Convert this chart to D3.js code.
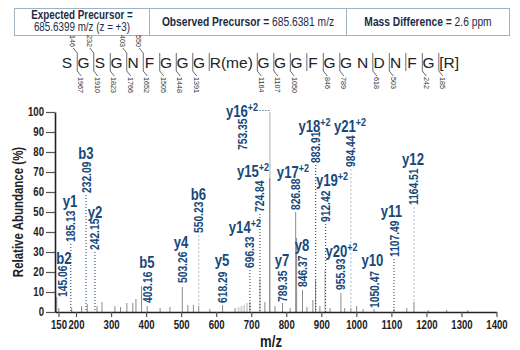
<!DOCTYPE html>
<html><head><meta charset="utf-8">
<script src="https://cdn.jsdelivr.net/npm/d3@7/dist/d3.min.js"></script>
<style>
body{margin:0;background:#fff}
svg text{font-family:"Liberation Sans",Arial,sans-serif;}
</style></head><body><svg id="c" width="520" height="350"></svg>
<script>
// ---------- DATA ----------
const headerLabels = ["Expected Precursor =", "Observed Precursor =", "Mass Difference ="];
const headerValues = ["685.6399 m/z (z = +3)", "685.6381 m/z", "2.6 ppm"];

const residues = ["S","G","S","G","N","F","G","G","G","R(me)","G","G","G","F","G","G","N","D","N","F","G","[R]"];
// fragment masses at each junction (after residue i)
const bFragments = [146,232,null,403,550,null,null,null,null,null,null,null,null,null,null,null,null,null,null,null,null];
const yFragments = [1967,1910,1823,1766,1652,1505,1448,1391,null,1164,1107,1050,null,846,789,null,618,503,null,242,185];
const junctionShown = [1,1,1,1,1,1,1,1,1,1,1,1,1,1,1,0,1,1,1,1,1];

// spectrum peaks (m/z, relative abundance %)
const peakMz  = [145.06,151,187.7,216,232.09,260,274,311,327,345,362,371,387,403.16,440,468,503.26,519,535,550.23,582,618.29,654,
                 696.33,739,752.6,768,789.35,811,826.88,829.5,846.37,859,876,883.91,896,925,955.93,967,984.44,1001,1019,1050.47,1107.49,1144,1164.51,1205,1258,1318];
const peakInt = [7.5,2,2,3,4,3,5,3,2.5,4.5,4.5,6.5,13,3,2,2.5,12.5,3.5,3.5,3,1.5,3.5,2,
                 5,5,67,3,4.5,2,50,37,11,2.5,6,16,3,2,9.5,2,2,3,1.5,1.5,1.5,2,5,1,1,1];
// lighter-drawn peaks (precursor / isotope region)
const lightMz  = [664,672,680,688,724.84,753.35,910.5];
const lightInt = [2.5,3,3.5,4.5,17,100,21];

// annotated fragment ions
const ionNames  = ["b2","y1","b3","y2","b5","y4","b6","y5","y14","y15","y16","y7","y17","y8","y18","y19","y20","y21","y10","y11","y12"];
const ionCharge = [1,1,1,1,1,1,1,1,2,2,2,1,2,1,2,2,2,2,1,1,1];
const ionMz     = [145.06,185.13,232.09,242.15,403.16,503.26,550.23,618.29,696.33,724.84,753.35,789.35,826.88,846.37,883.91,912.42,955.93,984.44,1050.47,1107.49,1164.51];
const valueMz   = [160,185.13,228.5,254,403.16,503.26,550.23,618.29,696.33,724.84,676.5,789.35,826.88,846.37,883.91,912.42,955.93,984.44,1050.47,1107.49,1164.51];
const valueLevel= [7.5,35,59.5,31,4.5,14.5,39.5,4.5,22,50,81,5,51,12.5,74.5,45,11,72.5,2,27.5,53.5];
const nameMz    = [165.7,182.8,228.5,254,402.6,499.6,549.5,616.6,682,705,673.7,787.8,819,845,880.6,930.5,957.6,982,1046,1100,1161.7];
const nameLevel = [24,52.5,76.5,47,22,32,56,23,39.5,67.5,97.5,23,67,30.5,90,63,27.5,90,23,47.5,73.5];
const dottedLeaderIons = ["y1","b3","y2","y14","y15","y18","y19","y11"];
const dashedLeaderIons = ["b6","y21","y12"];
const basePeakIon = "y16";

const xTicks = [150,200,300,400,500,600,700,800,900,1000,1100,1200,1300,1400];
const yTicks = [0,10,20,30,40,50,60,70,80,90,100];

// ---------- DRAW ----------
const svg = d3.select("#c");
const navy = "#17487a";
const NARROW = 0.82;
const x = d3.scaleLinear().domain([140,1400]).range([55,496.5]);
const y = d3.scaleLinear().domain([0,100]).range([312,112]);

// condensed text helper: Liberation Sans squeezed horizontally
function ntext(g, tx, ty, rot, size, bold, sx){
  return g.append("text")
    .attr("transform", `translate(${tx},${ty})` + (rot?` rotate(${rot})`:"") + ` scale(${sx||NARROW},1)`)
    .attr("font-size", size).attr("font-weight", bold?"bold":"normal");
}

// header table
const hdr = svg.append("g");
hdr.append("rect").attr("x",14.5).attr("y",8.5).attr("width",495).attr("height",27)
  .attr("fill","none").attr("stroke","#9fb2c6").attr("stroke-width",1);
[149.5,346.5].forEach(v=>hdr.append("line").attr("x1",v).attr("x2",v).attr("y1",8.5).attr("y2",35.5)
  .attr("stroke","#9fb2c6"));
const hcol = "#1c2c46";
ntext(hdr,82,18.5,0,12,true).attr("text-anchor","middle").attr("fill",hcol).text(headerLabels[0]);
ntext(hdr,82,31,0,12,false).attr("text-anchor","middle").attr("fill",hcol).text(headerValues[0]);
[[248,1],[428,2]].forEach(([cx,i])=>{
  const t = ntext(hdr,cx,26,0,12.5,false).attr("text-anchor","middle").attr("fill",hcol);
  t.append("tspan").attr("font-weight","bold").text(headerLabels[i]+" ");
  t.append("tspan").text(headerValues[i]);
});

// sequence
const seq = svg.append("g");
const seqY = 68;
let cursor = 58.75;
const slotStart = [];
residues.forEach((r,i)=>{
  const t = seq.append("text").attr("y",seqY).attr("font-size",15.5).attr("fill","#222")
    .attr("text-anchor","middle").text(r);
  const w = t.node().getComputedTextLength();
  const slot = r.length===1 ? 16.5 : w+5;
  slotStart.push(cursor);
  t.attr("x",cursor+slot/2);
  cursor += slot;
});
for(let j=0;j<residues.length-1;j++){
  if(!junctionShown[j]) continue;
  const bx = slotStart[j+1]+2;
  const top=53, bot=71;
  let pts = [];
  if(bFragments[j]!=null) pts.push([bx-4,48]);
  pts.push([bx,top]); pts.push([bx,bot]);
  if(yFragments[j]!=null) pts.push([bx+4,76]);
  seq.append("path").attr("d",d3.line()(pts)).attr("fill","none").attr("stroke","#444").attr("stroke-width",0.8);
  if(bFragments[j]!=null){
    ntext(seq,bx-4,47,90,8,false,0.9).attr("text-anchor","end")
      .attr("dy","0.35em").attr("fill","#333").text(bFragments[j]);
  }
  if(yFragments[j]!=null){
    ntext(seq,bx+4,77,90,8,false,0.9).attr("text-anchor","start")
      .attr("dy","0.35em").attr("fill","#333").text(yFragments[j]);
  }
}

// peaks
const pk = svg.append("g");
pk.selectAll(".lp").data(lightMz.map((m,i)=>[m,lightInt[i]])).join("line")
  .attr("x1",d=>x(d[0])).attr("x2",d=>x(d[0])).attr("y1",y(0)).attr("y2",d=>y(d[1]))
  .attr("stroke","#cccccc").attr("stroke-width",1.6);
pk.selectAll(".dp").data(peakMz.map((m,i)=>[m,peakInt[i]])).join("line")
  .attr("x1",d=>x(d[0])).attr("x2",d=>x(d[0])).attr("y1",y(0)).attr("y2",d=>y(d[1]))
  .attr("stroke","#8a8a8a").attr("stroke-width",1);

// leaders
const ann = svg.append("g");
ionNames.forEach((n,i)=>{
  const lx = x(valueMz[i]);
  if(dottedLeaderIons.includes(n)){
    ann.append("line").attr("x1",lx).attr("x2",lx).attr("y1",y(valueLevel[i])+2).attr("y2",y(0))
      .attr("stroke","#163a64").attr("stroke-width",1).attr("stroke-dasharray","1,2");
  } else if(dashedLeaderIons.includes(n)){
    ann.append("line").attr("x1",lx).attr("x2",lx).attr("y1",y(valueLevel[i])+2).attr("y2",y(0))
      .attr("stroke","#a9bfd3").attr("stroke-width",1).attr("stroke-dasharray","2,2");
  }
});

// value labels & names
ionNames.forEach((n,i)=>{
  ntext(ann,x(valueMz[i]),y(valueLevel[i]),-90,12.5,true)
    .attr("dy","0.36em").attr("fill",navy).text(ionMz[i].toFixed(2));
  const t = ntext(ann,x(nameMz[i]),y(nameLevel[i]),0,16,true).attr("text-anchor","middle").attr("fill",navy);
  t.append("tspan").text(n);
  if(ionCharge[i]>1){
    t.append("tspan").attr("font-size",11).attr("dy",-6).text("+"+ionCharge[i]);
  }
  if(n===basePeakIon){
    const bb = t.node().getBBox();
    ann.append("line").attr("x1",x(nameMz[i])+(bb.x+bb.width)*NARROW+1).attr("x2",x(ionMz[i]))
      .attr("y1",y(100)-1.5).attr("y2",y(100)-1.5)
      .attr("stroke","#163a64").attr("stroke-dasharray","1,2");
  }
});

// axes
const xa = svg.append("g").attr("transform",`translate(0,${y(0)})`)
  .call(d3.axisBottom(x).tickValues(xTicks).tickFormat(d3.format("d")).tickSize(5).tickSizeOuter(0).tickPadding(3));
const ya = svg.append("g").attr("transform",`translate(${x(140)},0)`)
  .call(d3.axisLeft(y).tickValues(yTicks).tickFormat(d3.format("d")).tickSize(9).tickSizeOuter(0).tickPadding(2));
[xa,ya].forEach(a=>{
  a.select(".domain").attr("stroke","#222").attr("stroke-width",1.6);
  a.selectAll(".tick line").attr("stroke","#555").attr("stroke-width",1.2);
  a.selectAll(".tick text").each(function(){
    const el = d3.select(this);
    const tx = +el.attr("x")||0, ty = +el.attr("y")||0;
    el.attr("transform",`translate(${tx},${ty}) scale(0.8,1)`).attr("x",0).attr("y",0);
  }).attr("font-size",12).attr("font-weight","bold").attr("fill","#222")
    .style("font-family","'Liberation Sans',Arial,sans-serif");
});
ntext(svg,23,212,-90,14,true).attr("text-anchor","middle").attr("fill","#222").text("Relative Abundance (%)");
ntext(svg,271,347,0,16,true).attr("text-anchor","middle").attr("fill","#222").text("m/z");
</script></body></html>
